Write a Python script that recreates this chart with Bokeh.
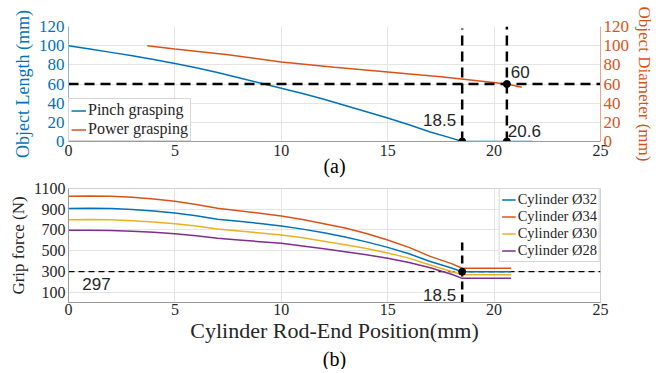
from bokeh.plotting import figure
from bokeh.models import (Range1d, LinearAxis, FixedTicker, Legend, LegendItem,
                          Label, Title)
from bokeh.layouts import column
from bokeh.embed import file_html
from bokeh.resources import INLINE

# ---------------- data (a) ----------------
pinch_x = [0, 1, 2, 3, 4, 5, 6, 7, 8, 9, 10, 11, 12, 13, 14, 15, 16, 17, 18, 18.5, 21.8]
pinch_y = [100, 96.5, 93, 89.5, 85.5, 81.5, 77, 72, 66.5, 61, 55.5, 50, 44, 37.5, 31, 24.5, 17.5, 10, 3.5, 0, 0]
power_x = [3.7, 5, 7.5, 10, 12.5, 15, 17.5, 19, 20.6, 21.3]
power_y = [100, 96.5, 90.5, 83, 77.5, 72.5, 67.5, 64, 60, 56.5]
target_size = 60
pinch_limit = 18.5
power_limit = 20.6
vline_top_a = [118, 120]

# ---------------- data (b) ----------------
pos_x = [0, 1, 2, 3, 4, 5, 6, 7, 8, 9, 10, 11, 12, 13, 14, 15, 16, 17, 18, 18.5, 20.8]
f32 = [908, 909, 907, 898, 882, 863, 838, 803, 783, 762, 738, 708, 672, 632, 585, 532, 470, 395, 333, 297, 297]
f34 = [1026, 1027, 1025, 1015, 998, 978, 945, 909, 886, 862, 835, 800, 760, 718, 665, 603, 532, 445, 375, 331, 331]
f30 = [799, 800, 798, 790, 777, 760, 738, 709, 690, 671, 651, 624, 592, 558, 520, 478, 428, 362, 300, 268, 268]
f28 = [696, 697, 695, 688, 677, 664, 645, 619, 603, 587, 571, 546, 518, 490, 460, 426, 385, 335, 272, 233, 233]
series_names = ["Cylinder Ø32", "Cylinder Ø34", "Cylinder Ø30", "Cylinder Ø28"]
min_force = 297
vline_top_b = 600

x_ticks = [0, 5, 10, 15, 20, 25]
a_ticks = [0, 20, 40, 60, 80, 100, 120]
b_ticks = [100, 300, 500, 700, 900, 1100]

BLUE, ORANGE, YELLOW, PURPLE = "#0072BD", "#D95319", "#EDB120", "#7E2F8E"
SERIF = "Liberation Serif"
SANS = "Liberation Sans"
GRID = "#e4e4e4"
TXT = "#262626"


def style_axis(axis, size, color, line_color, standoff):
    axis.major_tick_line_color = None
    axis.minor_tick_line_color = None
    axis.major_tick_out = 0
    axis.major_tick_in = 0
    axis.minor_tick_out = 0
    axis.minor_tick_in = 0
    axis.axis_line_color = line_color
    axis.major_label_text_font = SERIF
    axis.major_label_text_font_size = size
    axis.major_label_text_color = color
    axis.major_label_standoff = standoff


def style_label(axis, text, size, color, standoff):
    axis.axis_label = text
    axis.axis_label_text_font = SERIF
    axis.axis_label_text_font_size = size
    axis.axis_label_text_font_style = "normal"
    axis.axis_label_text_color = color
    axis.axis_label_standoff = standoff


# ================= top figure =================
pa = figure(width=657, height=180, x_range=Range1d(0, 25), y_range=Range1d(0, 120),
            output_backend="svg", toolbar_location=None,
            min_border_top=26, min_border_bottom=39, min_border_left=68, min_border_right=55)
pa.extra_y_ranges = {"right": Range1d(0, 120)}
pa.outline_line_color = None
pa.background_fill_color = "white"
pa.border_fill_color = "white"

for g in pa.xgrid + pa.ygrid:
    g.grid_line_color = GRID
pa.xgrid.ticker = FixedTicker(ticks=x_ticks)
pa.ygrid.ticker = FixedTicker(ticks=a_ticks)

ax = pa.xaxis[0]
ax.ticker = FixedTicker(ticks=x_ticks)
style_axis(ax, "16px", TXT, "#9a9a9a", 3)
style_label(ax, "(a)", "20px", "black", -4)

ay = pa.yaxis[0]
ay.ticker = FixedTicker(ticks=a_ticks)
style_axis(ay, "17px", BLUE, "#8fb3d6", 4)
style_label(ay, "Object Length (mm)", "18px", BLUE, 3)

ry = LinearAxis(y_range_name="right", ticker=FixedTicker(ticks=a_ticks))
style_axis(ry, "17px", ORANGE, "#e8a88a", 3)
style_label(ry, "Object Diameter (mm)", "17px", ORANGE, 3)
pa.add_layout(ry, "right")

r_pinch = pa.line(pinch_x, pinch_y, line_color=BLUE, line_width=1.5)
r_power = pa.line(power_x, power_y, line_color=ORANGE, line_width=1.5, y_range_name="right")

pa.line([0, 25], [target_size, target_size], line_color="black", line_width=2.5, line_dash="10 6")
pa.line([pinch_limit, pinch_limit], [0, vline_top_a[0]], line_color="black", line_width=2.5, line_dash="10 6")
pa.line([power_limit, power_limit], [0, vline_top_a[1]], line_color="black", line_width=2.5, line_dash="10 6")
pa.scatter([pinch_limit, power_limit, power_limit], [0, 0, target_size], size=7, color="black")

pa.add_layout(Label(x=pinch_limit, y=22, x_offset=-6, text=str(pinch_limit), text_align="right",
                    text_baseline="middle", text_font=SANS, text_font_size="17px", text_color=TXT))
pa.add_layout(Label(x=power_limit, y=11, x_offset=1, text=str(power_limit), text_align="left",
                    text_baseline="middle", text_font=SANS, text_font_size="17px", text_color=TXT))
pa.add_layout(Label(x=power_limit, y=72.5, x_offset=4, text=str(target_size), text_align="left",
                    text_baseline="middle", text_font=SANS, text_font_size="17px", text_color=TXT))

leg_a = Legend(items=[LegendItem(label="Pinch grasping", renderers=[r_pinch]),
                      LegendItem(label="Power grasping", renderers=[r_power])],
               location="bottom_left", margin=0, padding=2, spacing=1,
               label_text_font=SERIF, label_text_font_size="16px", label_text_color=TXT,
               label_height=17, glyph_height=17, glyph_width=15, label_standoff=2,
               border_line_color="#b0b0b0", background_fill_alpha=1.0)
pa.add_layout(leg_a)

# ================= bottom figure =================
pb = figure(width=657, height=189, x_range=Range1d(0, 25), y_range=Range1d(0, 1100),
            output_backend="svg", toolbar_location=None,
            min_border_top=8, min_border_bottom=67, min_border_left=68, min_border_right=55)
pb.outline_line_color = "#d0d0d0"
pb.background_fill_color = "white"
pb.border_fill_color = "white"
for g in pb.xgrid + pb.ygrid:
    g.grid_line_color = GRID
pb.xgrid.ticker = FixedTicker(ticks=x_ticks)
pb.ygrid.ticker = FixedTicker(ticks=b_ticks)

bx = pb.xaxis[0]
bx.ticker = FixedTicker(ticks=x_ticks)
style_axis(bx, "16px", TXT, "#9a9a9a", 1)
style_label(bx, "Cylinder Rod-End Position(mm)", "22px", TXT, 0)

by = pb.yaxis[0]
by.ticker = FixedTicker(ticks=b_ticks)
style_axis(by, "16px", TXT, "#9a9a9a", 3)
style_label(by, "Grip force (N)", "17px", TXT, 3)

pb.add_layout(Title(text="(b)", align="center", text_font=SERIF, text_font_size="20px",
                    text_font_style="normal", text_color="black", standoff=0, offset=0), "below")

pb.line([0, 25], [min_force, min_force], line_color="black", line_width=1.2, line_dash="6 4")
pb.line([pinch_limit, pinch_limit], [0, vline_top_b], line_color="black", line_width=2.5, line_dash="8 5")

rends = []
for ys, c in zip([f32, f34, f30, f28], [BLUE, ORANGE, YELLOW, PURPLE]):
    rends.append(pb.line(pos_x, ys, line_color=c, line_width=1.5))
pb.scatter([pinch_limit], [min_force], size=7, color="black")

pb.add_layout(Label(x=0.65, y=177, text=str(min_force), text_align="left", text_baseline="middle",
                    text_font=SANS, text_font_size="17px", text_color=TXT))
pb.add_layout(Label(x=pinch_limit, y=71, x_offset=-6, text=str(pinch_limit), text_align="right",
                    text_baseline="middle", text_font=SANS, text_font_size="17px", text_color=TXT))

leg_b = Legend(items=[LegendItem(label=n, renderers=[r]) for n, r in zip(series_names, rends)],
               location="top_right", margin=0, padding=2, spacing=0,
               label_text_font=SERIF, label_text_font_size="14.5px", label_text_color=TXT,
               label_height=15, glyph_height=15, glyph_width=14, label_standoff=2,
               border_line_color="#b0b0b0", background_fill_alpha=1.0)
pb.add_layout(leg_b)

layout = column(pa, pb, spacing=0)
open("out.html", "w").write(file_html(layout, INLINE))
